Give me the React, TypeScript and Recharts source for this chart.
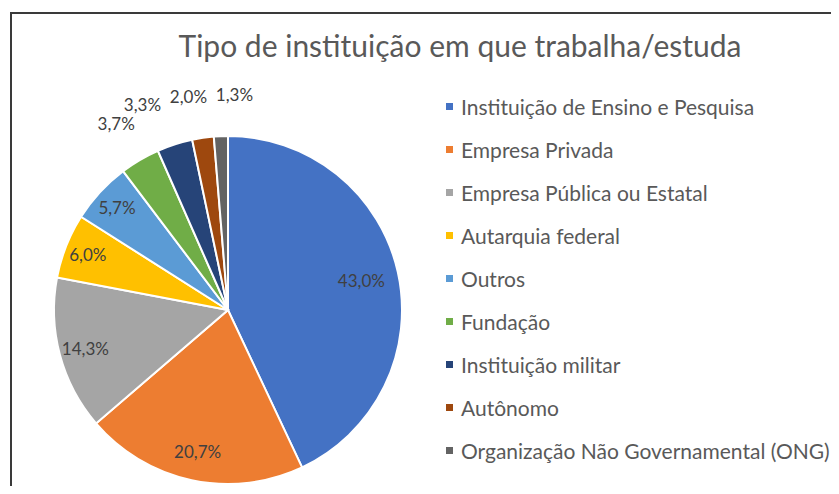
import React from 'react';
import { PieChart, Pie, Cell, Legend } from 'recharts';

const categories = [
  'Instituição de Ensino e Pesquisa',
  'Empresa Privada',
  'Empresa Pública ou Estatal',
  'Autarquia federal',
  'Outros',
  'Fundação',
  'Instituição militar',
  'Autônomo',
  'Organização Não Governamental (ONG)',
];
const shares = [43.0, 20.7, 14.3, 6.0, 5.7, 3.7, 3.3, 2.0, 1.3];
const COLORS = ['#4472C4', '#ED7D31', '#A5A5A5', '#FFC000', '#5B9BD5', '#70AD47', '#264478', '#9E480E', '#636363'];

const data = categories.map((name, i) => ({ name, value: shares[i] }));

const FONT = 'Lato, "Open Sans", sans-serif';
const RAD = Math.PI / 180;
// recharts offsets the pie by the default 5px margin
const CX = 223;
const CY = 305;
const R = 174;
const LABEL_W = 46;

const fmt = (v: number) => v.toFixed(1).replace('.', ',') + '%';

// thin slices get their label outside; crowded ones are spread apart sideways
const total = shares.reduce((a, b) => a + b, 0);
const outside: Record<number, { x: number; y: number }> = {};
(() => {
  let cum = 0;
  const spots: { i: number; x: number; y: number }[] = [];
  shares.forEach((v, i) => {
    const mid = 90 - ((cum + v / 2) / total) * 360;
    cum += v;
    if (v / total >= 0.05) return;
    const rr = R + 37;
    spots.push({ i, x: CX + rr * Math.cos(mid * RAD), y: CY - rr * Math.sin(mid * RAD) });
  });
  for (let k = 0; k < 100; k++) {
    spots.sort((a, b) => a.x - b.x);
    for (let j = 1; j < spots.length; j++) {
      const a = spots[j - 1];
      const b = spots[j];
      const gap = b.x - a.x;
      if (Math.abs(a.y - b.y) < 18 && gap < LABEL_W) {
        const d = (LABEL_W - gap) / 2;
        a.x -= d;
        b.x += d;
      }
    }
  }
  spots.forEach((s) => { outside[s.i] = { x: s.x, y: s.y }; });
})();

const renderLabel = (props: any) => {
  const { cx, cy, midAngle, outerRadius, index, value } = props;
  const p = value / total;
  let x: number;
  let y: number;
  if (outside[index]) {
    x = outside[index].x;
    y = outside[index].y;
  } else {
    const rr = outerRadius * (0.88 - 0.22 * p);
    x = cx + rr * Math.cos(-midAngle * RAD);
    y = cy + rr * Math.sin(-midAngle * RAD);
  }
  return (
    <text x={x} y={y} fill="#404040" fontSize={17} fontFamily={FONT} textAnchor="middle" dominantBaseline="central">
      {fmt(value)}
    </text>
  );
};

const LegendList = () => (
  <div style={{ fontFamily: FONT, fontSize: 21, color: '#595959' }}>
    {data.map((d, i) => (
      <div key={d.name} style={{ height: 43, display: 'flex', alignItems: 'center', whiteSpace: 'nowrap' }}>
        <span style={{ width: 7, height: 7, background: COLORS[i], marginRight: 8, display: 'inline-block' }} />
        {d.name}
      </div>
    ))}
  </div>
);

export default function App() {
  return (
    <div style={{ position: 'relative', width: 839, height: 494, margin: -8, overflow: 'hidden', background: '#fff' }}>
      <div
        style={{
          position: 'absolute', left: 10, top: 12, width: 900, height: 600,
          borderTop: '2px solid #3a3a3a', borderLeft: '2px solid #3a3a3a', boxSizing: 'border-box',
        }}
      />
      <div
        style={{
          position: 'absolute', left: 0, top: 27, width: 920, textAlign: 'center',
          fontFamily: FONT, fontSize: 30, color: '#595959', whiteSpace: 'nowrap',
        }}
      >
        Tipo de instituição em que trabalha/estuda
      </div>
      <div style={{ position: 'absolute', left: 0, top: 0 }}>
        <PieChart width={839} height={494} accessibilityLayer={false} style={{ outline: 'none' }}>
          <Pie
            data={data}
            dataKey="value"
            nameKey="name"
            cx={CX}
            cy={CY}
            outerRadius={R}
            startAngle={90}
            endAngle={-270}
            stroke="#fff"
            strokeWidth={2}
            label={renderLabel}
            labelLine={false}
            isAnimationActive={false}
          >
            {data.map((d, i) => <Cell key={d.name} fill={COLORS[i]} />)}
          </Pie>
          <Legend
            layout="vertical"
            content={<LegendList />}
            wrapperStyle={{ left: 446, top: 85, width: 400, right: 'auto', bottom: 'auto' }}
          />
        </PieChart>
      </div>
    </div>
  );
}
